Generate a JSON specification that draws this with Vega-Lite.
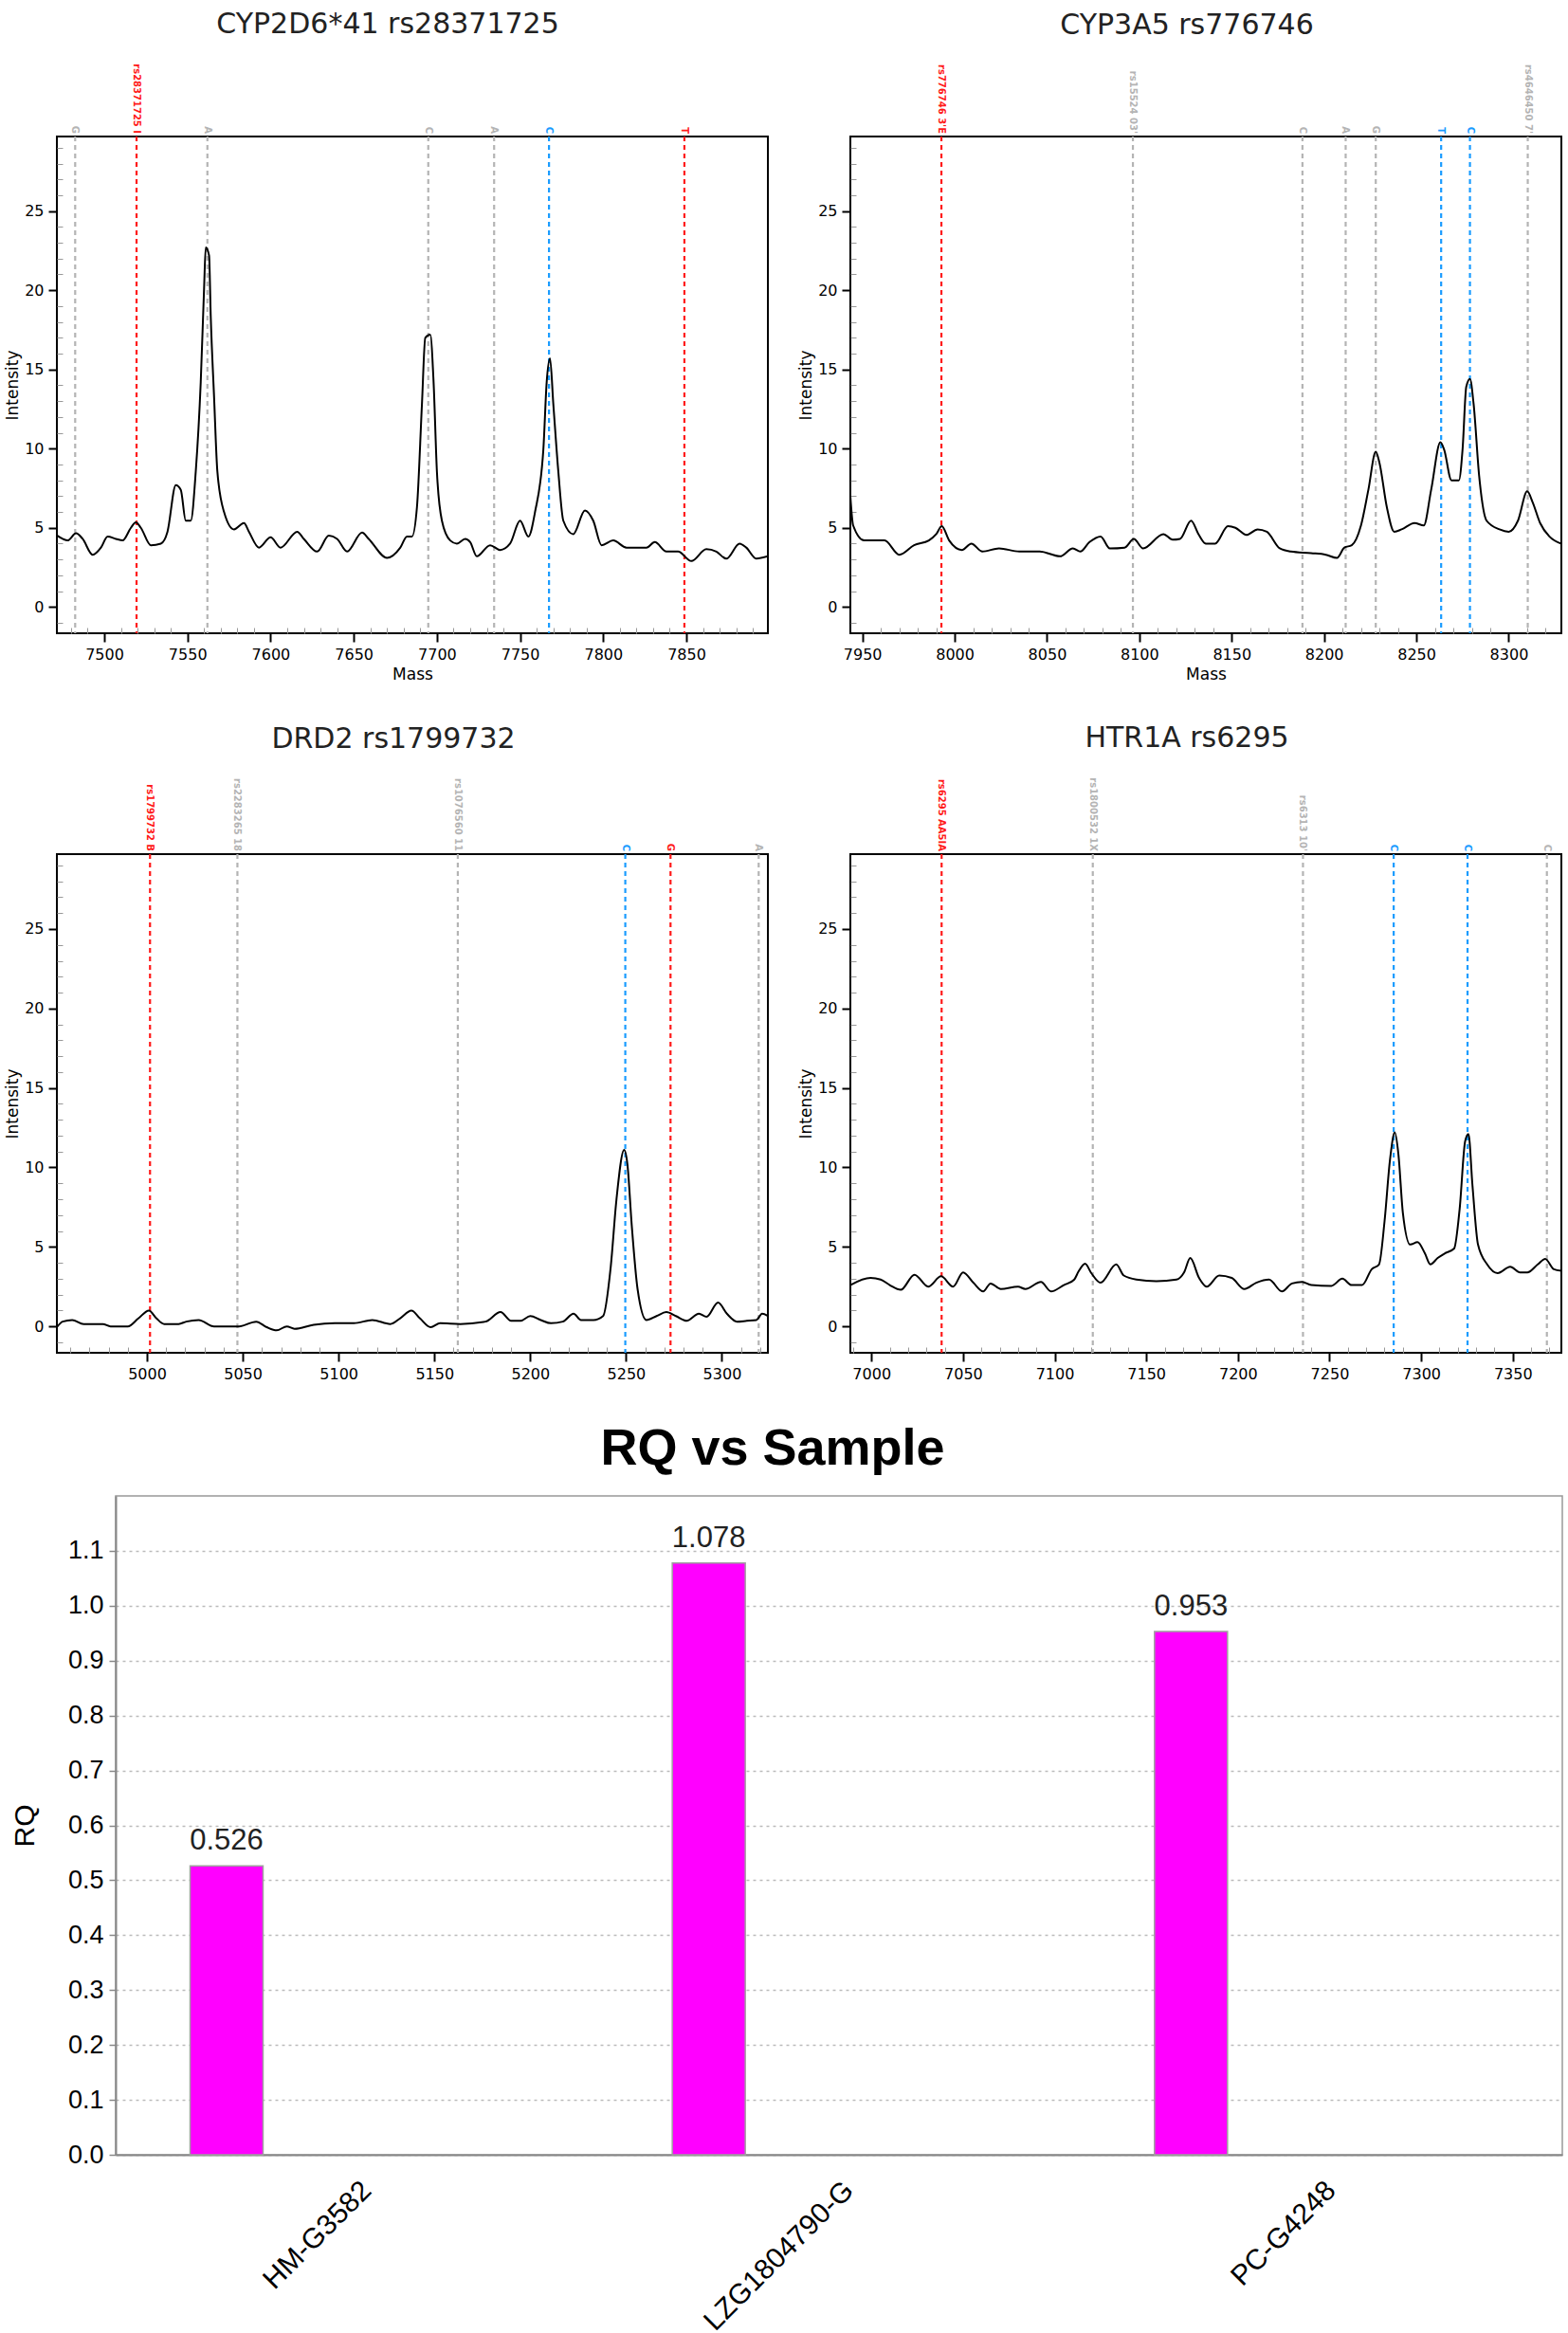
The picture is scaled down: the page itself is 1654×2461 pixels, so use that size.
{
  "$schema": "https://vega.github.io/schema/vega-lite/v6.json",
  "padding": {"left": 3, "right": 5, "top": 10, "bottom": 5},
  "background": "white",
  "datasets": {
    "p1": [
      {"mass": 7470.4, "int": 4.6}, {"mass": 7475, "int": 4.3}, {"mass": 7478, "int": 4.2}, {"mass": 7483, "int": 4.65},
      {"mass": 7487, "int": 4.3}, {"mass": 7493, "int": 3.3}, {"mass": 7498, "int": 3.75}, {"mass": 7502, "int": 4.45},
      {"mass": 7507, "int": 4.3}, {"mass": 7511, "int": 4.2}, {"mass": 7516, "int": 5.0}, {"mass": 7519, "int": 5.35},
      {"mass": 7522, "int": 5.0}, {"mass": 7528, "int": 3.9}, {"mass": 7534, "int": 4.0}, {"mass": 7538, "int": 4.75},
      {"mass": 7543, "int": 7.7}, {"mass": 7546, "int": 7.4}, {"mass": 7549, "int": 5.45}, {"mass": 7552, "int": 5.45},
      {"mass": 7555, "int": 8.55}, {"mass": 7558, "int": 14.2}, {"mass": 7560, "int": 20.1}, {"mass": 7561, "int": 22.7},
      {"mass": 7563, "int": 22.2}, {"mass": 7564, "int": 18.4}, {"mass": 7566, "int": 13.3}, {"mass": 7568, "int": 8.55},
      {"mass": 7572, "int": 6.0}, {"mass": 7578, "int": 4.9}, {"mass": 7584, "int": 5.3}, {"mass": 7587, "int": 4.75},
      {"mass": 7593, "int": 3.75}, {"mass": 7600, "int": 4.4}, {"mass": 7606, "int": 3.75}, {"mass": 7616, "int": 4.75},
      {"mass": 7620, "int": 4.3}, {"mass": 7628, "int": 3.5}, {"mass": 7635, "int": 4.5}, {"mass": 7640, "int": 4.3},
      {"mass": 7646, "int": 3.5}, {"mass": 7655, "int": 4.7}, {"mass": 7659, "int": 4.3}, {"mass": 7670, "int": 3.1},
      {"mass": 7678, "int": 3.75}, {"mass": 7682, "int": 4.45}, {"mass": 7685, "int": 4.45}, {"mass": 7688, "int": 6.3},
      {"mass": 7691, "int": 12.8}, {"mass": 7693, "int": 17.0}, {"mass": 7696, "int": 17.2}, {"mass": 7698, "int": 14.2},
      {"mass": 7700, "int": 8.55}, {"mass": 7703, "int": 5.45}, {"mass": 7708, "int": 4.2}, {"mass": 7712, "int": 4.0},
      {"mass": 7717, "int": 4.3}, {"mass": 7720, "int": 4.1}, {"mass": 7724, "int": 3.2}, {"mass": 7732, "int": 3.9},
      {"mass": 7738, "int": 3.6}, {"mass": 7744, "int": 4.0}, {"mass": 7750, "int": 5.45}, {"mass": 7755, "int": 4.45},
      {"mass": 7759, "int": 6.0}, {"mass": 7764, "int": 9.95}, {"mass": 7766, "int": 14.2}, {"mass": 7768, "int": 15.7},
      {"mass": 7770, "int": 12.8}, {"mass": 7773, "int": 8.55}, {"mass": 7776, "int": 5.45}, {"mass": 7782, "int": 4.6},
      {"mass": 7789, "int": 6.1}, {"mass": 7794, "int": 5.45}, {"mass": 7799, "int": 3.9}, {"mass": 7806, "int": 4.2},
      {"mass": 7814, "int": 3.75}, {"mass": 7826, "int": 3.75}, {"mass": 7831, "int": 4.1}, {"mass": 7838, "int": 3.5},
      {"mass": 7845, "int": 3.5}, {"mass": 7853, "int": 2.9}, {"mass": 7862, "int": 3.65}, {"mass": 7868, "int": 3.5},
      {"mass": 7874, "int": 3.05}, {"mass": 7882, "int": 4.0}, {"mass": 7886, "int": 3.75}, {"mass": 7892, "int": 3.05},
      {"mass": 7899, "int": 3.2}
    ],
    "p2": [
      {"mass": 7943.5, "int": 7.0}, {"mass": 7945, "int": 5.15}, {"mass": 7951, "int": 4.2}, {"mass": 7962, "int": 4.2},
      {"mass": 7970, "int": 3.3}, {"mass": 7978, "int": 3.9}, {"mass": 7986, "int": 4.2}, {"mass": 7990, "int": 4.6},
      {"mass": 7993, "int": 5.1}, {"mass": 7997, "int": 4.2}, {"mass": 8004, "int": 3.6}, {"mass": 8009, "int": 4.0},
      {"mass": 8015, "int": 3.5}, {"mass": 8024, "int": 3.7}, {"mass": 8035, "int": 3.5}, {"mass": 8046, "int": 3.5},
      {"mass": 8057, "int": 3.2}, {"mass": 8064, "int": 3.7}, {"mass": 8068, "int": 3.5}, {"mass": 8073, "int": 4.1},
      {"mass": 8079, "int": 4.45}, {"mass": 8084, "int": 3.7}, {"mass": 8092, "int": 3.75}, {"mass": 8097, "int": 4.3},
      {"mass": 8102, "int": 3.7}, {"mass": 8113, "int": 4.6}, {"mass": 8118, "int": 4.25}, {"mass": 8122, "int": 4.3},
      {"mass": 8128, "int": 5.45}, {"mass": 8132, "int": 4.6}, {"mass": 8136, "int": 4.0}, {"mass": 8141, "int": 4.0},
      {"mass": 8148, "int": 5.1}, {"mass": 8152, "int": 5.0}, {"mass": 8158, "int": 4.55}, {"mass": 8164, "int": 4.9},
      {"mass": 8169, "int": 4.75}, {"mass": 8176, "int": 3.7}, {"mass": 8182, "int": 3.5}, {"mass": 8193, "int": 3.4},
      {"mass": 8201, "int": 3.3}, {"mass": 8207, "int": 3.1}, {"mass": 8211, "int": 3.75}, {"mass": 8215, "int": 3.9},
      {"mass": 8220, "int": 5.15}, {"mass": 8224, "int": 7.4}, {"mass": 8228, "int": 9.8}, {"mass": 8230, "int": 9.1},
      {"mass": 8234, "int": 6.3}, {"mass": 8238, "int": 4.75}, {"mass": 8242, "int": 4.9}, {"mass": 8249, "int": 5.3},
      {"mass": 8254, "int": 5.15}, {"mass": 8258, "int": 7.4}, {"mass": 8263, "int": 10.4}, {"mass": 8265, "int": 9.95},
      {"mass": 8269, "int": 8.0}, {"mass": 8273, "int": 8.0}, {"mass": 8275, "int": 9.95}, {"mass": 8277, "int": 13.9},
      {"mass": 8279, "int": 14.4}, {"mass": 8281, "int": 12.8}, {"mass": 8284, "int": 8.25}, {"mass": 8288, "int": 5.45},
      {"mass": 8295, "int": 4.9}, {"mass": 8300, "int": 4.75}, {"mass": 8305, "int": 5.45}, {"mass": 8310, "int": 7.3},
      {"mass": 8313, "int": 6.6}, {"mass": 8317, "int": 5.3}, {"mass": 8322, "int": 4.45}, {"mass": 8328.5, "int": 4.0}
    ],
    "p3": [
      {"mass": 4953, "int": -0.05}, {"mass": 4956, "int": 0.3}, {"mass": 4961, "int": 0.4}, {"mass": 4967, "int": 0.15},
      {"mass": 4977, "int": 0.15}, {"mass": 4981, "int": 0.0}, {"mass": 4990, "int": 0.0}, {"mass": 4995.5, "int": 0.5},
      {"mass": 5001, "int": 1.0}, {"mass": 5005, "int": 0.5}, {"mass": 5009, "int": 0.15}, {"mass": 5016.5, "int": 0.15},
      {"mass": 5020.5, "int": 0.3}, {"mass": 5027, "int": 0.4}, {"mass": 5035, "int": 0.0}, {"mass": 5048, "int": 0.0},
      {"mass": 5057, "int": 0.3}, {"mass": 5062.5, "int": -0.05}, {"mass": 5067.7, "int": -0.25}, {"mass": 5073, "int": 0.0},
      {"mass": 5077, "int": -0.15}, {"mass": 5087, "int": 0.1}, {"mass": 5098, "int": 0.2}, {"mass": 5108, "int": 0.2},
      {"mass": 5117.6, "int": 0.4}, {"mass": 5127, "int": 0.15}, {"mass": 5132, "int": 0.5}, {"mass": 5138, "int": 1.0},
      {"mass": 5142.5, "int": 0.5}, {"mass": 5148, "int": -0.05}, {"mass": 5153, "int": 0.2}, {"mass": 5163.5, "int": 0.15},
      {"mass": 5176.6, "int": 0.3}, {"mass": 5184.5, "int": 0.9}, {"mass": 5190, "int": 0.35}, {"mass": 5195, "int": 0.35},
      {"mass": 5200, "int": 0.65}, {"mass": 5205.5, "int": 0.4}, {"mass": 5210.8, "int": 0.2}, {"mass": 5217, "int": 0.3},
      {"mass": 5222.6, "int": 0.8}, {"mass": 5226.5, "int": 0.4}, {"mass": 5233, "int": 0.4}, {"mass": 5238, "int": 0.65},
      {"mass": 5242, "int": 3.75}, {"mass": 5245, "int": 8.0}, {"mass": 5249, "int": 11.1}, {"mass": 5250.7, "int": 10.2},
      {"mass": 5253, "int": 6.3}, {"mass": 5256, "int": 2.35}, {"mass": 5260.6, "int": 0.4}, {"mass": 5265.9, "int": 0.65},
      {"mass": 5271, "int": 0.9}, {"mass": 5276, "int": 0.65}, {"mass": 5281.6, "int": 0.35}, {"mass": 5288, "int": 0.8},
      {"mass": 5292, "int": 0.6}, {"mass": 5298, "int": 1.5}, {"mass": 5302.6, "int": 0.8}, {"mass": 5307.9, "int": 0.3},
      {"mass": 5313, "int": 0.35}, {"mass": 5318, "int": 0.4}, {"mass": 5321, "int": 0.8}, {"mass": 5324, "int": 0.65}
    ],
    "p4": [
      {"mass": 6988.5, "int": 2.6}, {"mass": 6999.5, "int": 3.05}, {"mass": 7005, "int": 2.95}, {"mass": 7010, "int": 2.6},
      {"mass": 7016, "int": 2.3}, {"mass": 7023.5, "int": 3.25}, {"mass": 7031, "int": 2.5}, {"mass": 7038, "int": 3.15},
      {"mass": 7044.6, "int": 2.5}, {"mass": 7050, "int": 3.4}, {"mass": 7055.6, "int": 2.75}, {"mass": 7061, "int": 2.2},
      {"mass": 7065, "int": 2.7}, {"mass": 7070.6, "int": 2.35}, {"mass": 7080, "int": 2.5}, {"mass": 7084, "int": 2.35},
      {"mass": 7092.5, "int": 2.8}, {"mass": 7098, "int": 2.2}, {"mass": 7105, "int": 2.6}, {"mass": 7110.7, "int": 2.95},
      {"mass": 7113, "int": 3.45}, {"mass": 7116.6, "int": 3.95}, {"mass": 7120, "int": 3.35}, {"mass": 7125, "int": 2.75},
      {"mass": 7133.6, "int": 3.9}, {"mass": 7137.7, "int": 3.2}, {"mass": 7144.6, "int": 2.95}, {"mass": 7155.5, "int": 2.85},
      {"mass": 7166.5, "int": 2.95}, {"mass": 7170.6, "int": 3.4}, {"mass": 7174, "int": 4.3}, {"mass": 7178.8, "int": 3.05},
      {"mass": 7183, "int": 2.5}, {"mass": 7189.8, "int": 3.2}, {"mass": 7196.6, "int": 3.05}, {"mass": 7203.5, "int": 2.35},
      {"mass": 7210, "int": 2.75}, {"mass": 7217, "int": 2.95}, {"mass": 7224, "int": 2.2}, {"mass": 7229.5, "int": 2.7},
      {"mass": 7235, "int": 2.8}, {"mass": 7240, "int": 2.6}, {"mass": 7251, "int": 2.55}, {"mass": 7257, "int": 3.0},
      {"mass": 7262, "int": 2.6}, {"mass": 7267.8, "int": 2.6}, {"mass": 7273, "int": 3.6}, {"mass": 7277, "int": 3.9},
      {"mass": 7280, "int": 6.6}, {"mass": 7283, "int": 10.5}, {"mass": 7285.6, "int": 12.2}, {"mass": 7287.6, "int": 10.8},
      {"mass": 7290, "int": 7.15}, {"mass": 7294, "int": 5.15}, {"mass": 7298, "int": 5.3}, {"mass": 7302, "int": 4.6},
      {"mass": 7305, "int": 3.9}, {"mass": 7309, "int": 4.3}, {"mass": 7313, "int": 4.6}, {"mass": 7318, "int": 4.9},
      {"mass": 7321, "int": 7.4}, {"mass": 7324, "int": 11.65}, {"mass": 7325.8, "int": 12.1}, {"mass": 7328, "int": 8.85},
      {"mass": 7331, "int": 5.15}, {"mass": 7336, "int": 3.9}, {"mass": 7341.7, "int": 3.35}, {"mass": 7348.6, "int": 3.75},
      {"mass": 7354, "int": 3.4}, {"mass": 7358, "int": 3.4}, {"mass": 7363.6, "int": 3.9}, {"mass": 7367.7, "int": 4.25},
      {"mass": 7372.4, "int": 3.6}, {"mass": 7376.5, "int": 3.5}
    ],
    "m1": [
      {"mass": 7482.5, "kind": "gray", "label": "G"},
      {"mass": 7519.4, "kind": "red", "label": "rs28371725 I"},
      {"mass": 7562, "kind": "gray", "label": "A"},
      {"mass": 7694.8, "kind": "gray", "label": "C"},
      {"mass": 7734.4, "kind": "gray", "label": "A"},
      {"mass": 7767.4, "kind": "blue", "label": "C"},
      {"mass": 7848.8, "kind": "red", "label": "T"}
    ],
    "m2": [
      {"mass": 7992.8, "kind": "red", "label": "rs776746 3'E"},
      {"mass": 8096.5, "kind": "gray", "label": "rs15524 03'"},
      {"mass": 8188.3, "kind": "gray", "label": "C"},
      {"mass": 8211.7, "kind": "gray", "label": "A"},
      {"mass": 8228, "kind": "gray", "label": "G"},
      {"mass": 8263.4, "kind": "blue", "label": "T"},
      {"mass": 8279, "kind": "blue", "label": "C"},
      {"mass": 8310.3, "kind": "gray", "label": "rs4646450 7'"}
    ],
    "m3": [
      {"mass": 5001.6, "kind": "red", "label": "rs1799732 B"},
      {"mass": 5047.2, "kind": "gray", "label": "rs2283265 18"},
      {"mass": 5162.2, "kind": "gray", "label": "rs1076560 11"},
      {"mass": 5249.6, "kind": "blue", "label": "C"},
      {"mass": 5273.2, "kind": "red", "label": "G"},
      {"mass": 5319.2, "kind": "gray", "label": "A"}
    ],
    "m4": [
      {"mass": 7038.3, "kind": "red", "label": "rs6295 AA5IA"},
      {"mass": 7120.8, "kind": "gray", "label": "rs1800532 1X"},
      {"mass": 7235.5, "kind": "gray", "label": "rs6313 10'"},
      {"mass": 7285, "kind": "blue", "label": "C"},
      {"mass": 7325.3, "kind": "blue", "label": "C"},
      {"mass": 7368.6, "kind": "gray", "label": "C"}
    ],
    "rq": [
      {"sample": "HM-G3582", "series": "RQ", "rq": 0.526},
      {"sample": "LZG1804790-G", "series": "RQ", "rq": 1.078},
      {"sample": "PC-G4248", "series": "RQ", "rq": 0.953}
    ]
  },
  "concat": [
    {
      "hconcat": [
        {
          "title": {"text": "CYP2D6*41 rs28371725", "dx": -26},
          "width": 750, "height": 524,
          "resolve": {"axis": {"x": "independent", "y": "independent"}},
          "layer": [
            {
              "data": {"name": "m1"},
              "mark": {"type": "rule", "strokeDash": [5, 4]},
              "encoding": {
                "x": {"field": "mass", "type": "quantitative", "scale": {"domain": [7471.5, 7899]},
                  "axis": {"orient": "bottom", "title": null, "labels": false, "tickSize": -6, "tickColor": "#999999", "tickWidth": 1,
                    "values": [7480, 7490, 7510, 7520, 7530, 7540, 7560, 7570, 7580, 7590, 7610, 7620, 7630, 7640, 7660, 7670, 7680, 7690, 7710, 7720, 7730, 7740, 7760, 7770, 7780, 7790, 7810, 7820, 7830, 7840, 7860, 7870, 7880, 7890]}},
                "color": {"field": "kind", "type": "nominal", "scale": {"domain": ["red", "blue", "gray"], "range": ["#ff1a1a", "#1a9cff", "#b4b4b4"]}, "legend": null},
                "strokeWidth": {"field": "kind", "type": "nominal", "scale": {"domain": ["red", "blue", "gray"], "range": [2.2, 2.2, 1.4]}, "legend": null}
              }
            },
            {
              "data": {"name": "p1"},
              "mark": {"type": "line", "color": "black", "strokeWidth": 2, "interpolate": "monotone", "clip": true},
              "encoding": {
                "x": {"field": "mass", "type": "quantitative", "scale": {"domain": [7471.5, 7899]},
                  "axis": {"orient": "bottom", "title": "Mass", "format": "d", "values": [7500, 7550, 7600, 7650, 7700, 7750, 7800, 7850]}},
                "y": {"field": "int", "type": "quantitative", "scale": {"domain": [-1.66, 29.71]},
                  "axis": {"orient": "left", "title": "Intensity", "values": [0, 5, 10, 15, 20, 25]}}
              }
            },
            {
              "data": {"name": "m1"},
              "mark": {"type": "text", "angle": 90, "align": "right", "baseline": "middle", "dx": -3, "fontSize": 10, "font": "DejaVu Sans", "fontWeight": "bold"},
              "encoding": {
                "x": {"field": "mass", "type": "quantitative", "scale": {"domain": [7471.5, 7899]}, "axis": null},
                "y": {"datum": 29.71, "type": "quantitative", "scale": {"domain": [-1.66, 29.71]},
                  "axis": {"orient": "left", "title": null, "labels": false, "tickSize": -6, "tickColor": "#999999", "tickWidth": 1,
                    "values": [-1, 1, 2, 3, 4, 6, 7, 8, 9, 11, 12, 13, 14, 16, 17, 18, 19, 21, 22, 23, 24, 26, 27, 28, 29]}},
                "text": {"field": "label"},
                "color": {"field": "kind", "type": "nominal", "scale": {"domain": ["red", "blue", "gray"], "range": ["#ff1a1a", "#1a9cff", "#b4b4b4"]}, "legend": null}
              }
            }
          ]
        },
        {
          "title": {"text": "CYP3A5 rs776746", "dx": -20},
          "width": 750, "height": 524,
          "resolve": {"axis": {"x": "independent", "y": "independent"}},
          "layer": [
            {
              "data": {"name": "m2"},
              "mark": {"type": "rule", "strokeDash": [5, 4]},
              "encoding": {
                "x": {"field": "mass", "type": "quantitative", "scale": {"domain": [7943.5, 8328.5]},
                  "axis": {"orient": "bottom", "title": null, "labels": false, "tickSize": -6, "tickColor": "#999999", "tickWidth": 1,
                    "values": [7960, 7970, 7980, 7990, 8010, 8020, 8030, 8040, 8060, 8070, 8080, 8090, 8110, 8120, 8130, 8140, 8160, 8170, 8180, 8190, 8210, 8220, 8230, 8240, 8260, 8270, 8280, 8290, 8310, 8320]}},
                "color": {"field": "kind", "type": "nominal", "scale": {"domain": ["red", "blue", "gray"], "range": ["#ff1a1a", "#1a9cff", "#b4b4b4"]}, "legend": null},
                "strokeWidth": {"field": "kind", "type": "nominal", "scale": {"domain": ["red", "blue", "gray"], "range": [2.2, 2.2, 1.4]}, "legend": null}
              }
            },
            {
              "data": {"name": "p2"},
              "mark": {"type": "line", "color": "black", "strokeWidth": 2, "interpolate": "monotone", "clip": true},
              "encoding": {
                "x": {"field": "mass", "type": "quantitative", "scale": {"domain": [7943.5, 8328.5]},
                  "axis": {"orient": "bottom", "title": "Mass", "format": "d", "values": [7950, 8000, 8050, 8100, 8150, 8200, 8250, 8300]}},
                "y": {"field": "int", "type": "quantitative", "scale": {"domain": [-1.66, 29.71]},
                  "axis": {"orient": "left", "title": "Intensity", "values": [0, 5, 10, 15, 20, 25]}}
              }
            },
            {
              "data": {"name": "m2"},
              "mark": {"type": "text", "angle": 90, "align": "right", "baseline": "middle", "dx": -3, "fontSize": 10, "font": "DejaVu Sans", "fontWeight": "bold"},
              "encoding": {
                "x": {"field": "mass", "type": "quantitative", "scale": {"domain": [7943.5, 8328.5]}, "axis": null},
                "y": {"datum": 29.71, "type": "quantitative", "scale": {"domain": [-1.66, 29.71]},
                  "axis": {"orient": "left", "title": null, "labels": false, "tickSize": -6, "tickColor": "#999999", "tickWidth": 1,
                    "values": [-1, 1, 2, 3, 4, 6, 7, 8, 9, 11, 12, 13, 14, 16, 17, 18, 19, 21, 22, 23, 24, 26, 27, 28, 29]}},
                "text": {"field": "label"},
                "color": {"field": "kind", "type": "nominal", "scale": {"domain": ["red", "blue", "gray"], "range": ["#ff1a1a", "#1a9cff", "#b4b4b4"]}, "legend": null}
              }
            }
          ]
        }
      ],
      "spacing": 29
    },
    {
      "hconcat": [
        {
          "title": {"text": "DRD2 rs1799732", "dx": -20},
          "width": 750, "height": 526,
          "resolve": {"axis": {"x": "independent", "y": "independent"}},
          "layer": [
            {
              "data": {"name": "m3"},
              "mark": {"type": "rule", "strokeDash": [5, 4]},
              "encoding": {
                "x": {"field": "mass", "type": "quantitative", "scale": {"domain": [4953, 5324]},
                  "axis": {"orient": "bottom", "title": null, "labels": false, "tickSize": -6, "tickColor": "#999999", "tickWidth": 1,
                    "values": [4960, 4970, 4980, 4990, 5010, 5020, 5030, 5040, 5060, 5070, 5080, 5090, 5110, 5120, 5130, 5140, 5160, 5170, 5180, 5190, 5210, 5220, 5230, 5240, 5260, 5270, 5280, 5290, 5310, 5320]}},
                "color": {"field": "kind", "type": "nominal", "scale": {"domain": ["red", "blue", "gray"], "range": ["#ff1a1a", "#1a9cff", "#b4b4b4"]}, "legend": null},
                "strokeWidth": {"field": "kind", "type": "nominal", "scale": {"domain": ["red", "blue", "gray"], "range": [2.2, 2.2, 1.4]}, "legend": null}
              }
            },
            {
              "data": {"name": "p3"},
              "mark": {"type": "line", "color": "black", "strokeWidth": 2, "interpolate": "monotone", "clip": true},
              "encoding": {
                "x": {"field": "mass", "type": "quantitative", "scale": {"domain": [4953, 5324]},
                  "axis": {"orient": "bottom", "title": null, "format": "d", "values": [5000, 5050, 5100, 5150, 5200, 5250, 5300]}},
                "y": {"field": "int", "type": "quantitative", "scale": {"domain": [-1.66, 29.71]},
                  "axis": {"orient": "left", "title": "Intensity", "values": [0, 5, 10, 15, 20, 25]}}
              }
            },
            {
              "data": {"name": "m3"},
              "mark": {"type": "text", "angle": 90, "align": "right", "baseline": "middle", "dx": -3, "fontSize": 10, "font": "DejaVu Sans", "fontWeight": "bold"},
              "encoding": {
                "x": {"field": "mass", "type": "quantitative", "scale": {"domain": [4953, 5324]}, "axis": null},
                "y": {"datum": 29.71, "type": "quantitative", "scale": {"domain": [-1.66, 29.71]},
                  "axis": {"orient": "left", "title": null, "labels": false, "tickSize": -6, "tickColor": "#999999", "tickWidth": 1,
                    "values": [-1, 1, 2, 3, 4, 6, 7, 8, 9, 11, 12, 13, 14, 16, 17, 18, 19, 21, 22, 23, 24, 26, 27, 28, 29]}},
                "text": {"field": "label"},
                "color": {"field": "kind", "type": "nominal", "scale": {"domain": ["red", "blue", "gray"], "range": ["#ff1a1a", "#1a9cff", "#b4b4b4"]}, "legend": null}
              }
            }
          ]
        },
        {
          "title": {"text": "HTR1A rs6295", "dx": -20},
          "width": 750, "height": 526,
          "resolve": {"axis": {"x": "independent", "y": "independent"}},
          "layer": [
            {
              "data": {"name": "m4"},
              "mark": {"type": "rule", "strokeDash": [5, 4]},
              "encoding": {
                "x": {"field": "mass", "type": "quantitative", "scale": {"domain": [6988.5, 7376.5]},
                  "axis": {"orient": "bottom", "title": null, "labels": false, "tickSize": -6, "tickColor": "#999999", "tickWidth": 1,
                    "values": [6990, 7010, 7020, 7030, 7040, 7060, 7070, 7080, 7090, 7110, 7120, 7130, 7140, 7160, 7170, 7180, 7190, 7210, 7220, 7230, 7240, 7260, 7270, 7280, 7290, 7310, 7320, 7330, 7340, 7360, 7370]}},
                "color": {"field": "kind", "type": "nominal", "scale": {"domain": ["red", "blue", "gray"], "range": ["#ff1a1a", "#1a9cff", "#b4b4b4"]}, "legend": null},
                "strokeWidth": {"field": "kind", "type": "nominal", "scale": {"domain": ["red", "blue", "gray"], "range": [2.2, 2.2, 1.4]}, "legend": null}
              }
            },
            {
              "data": {"name": "p4"},
              "mark": {"type": "line", "color": "black", "strokeWidth": 2, "interpolate": "monotone", "clip": true},
              "encoding": {
                "x": {"field": "mass", "type": "quantitative", "scale": {"domain": [6988.5, 7376.5]},
                  "axis": {"orient": "bottom", "title": null, "format": "d", "values": [7000, 7050, 7100, 7150, 7200, 7250, 7300, 7350]}},
                "y": {"field": "int", "type": "quantitative", "scale": {"domain": [-1.66, 29.71]},
                  "axis": {"orient": "left", "title": "Intensity", "values": [0, 5, 10, 15, 20, 25]}}
              }
            },
            {
              "data": {"name": "m4"},
              "mark": {"type": "text", "angle": 90, "align": "right", "baseline": "middle", "dx": -3, "fontSize": 10, "font": "DejaVu Sans", "fontWeight": "bold"},
              "encoding": {
                "x": {"field": "mass", "type": "quantitative", "scale": {"domain": [6988.5, 7376.5]}, "axis": null},
                "y": {"datum": 29.71, "type": "quantitative", "scale": {"domain": [-1.66, 29.71]},
                  "axis": {"orient": "left", "title": null, "labels": false, "tickSize": -6, "tickColor": "#999999", "tickWidth": 1,
                    "values": [-1, 1, 2, 3, 4, 6, 7, 8, 9, 11, 12, 13, 14, 16, 17, 18, 19, 21, 22, 23, 24, 26, 27, 28, 29]}},
                "text": {"field": "label"},
                "color": {"field": "kind", "type": "nominal", "scale": {"domain": ["red", "blue", "gray"], "range": ["#ff1a1a", "#1a9cff", "#b4b4b4"]}, "legend": null}
              }
            }
          ]
        }
      ],
      "spacing": 29
    },
    {
      "hconcat": [
        {
          "width": 30, "height": 695,
          "view": {"stroke": null},
          "data": {"values": [{"blank": 0}]},
          "mark": {"type": "point", "opacity": 0}
        },
        {
          "title": {"text": "RQ vs Sample", "font": "Liberation Sans", "fontSize": 54, "fontWeight": "bold", "color": "black", "offset": 22, "dx": -70},
          "width": 1526, "height": 695,
          "view": {"stroke": "#999999", "strokeWidth": 1.5},
          "data": {"name": "rq"},
          "encoding": {
            "x": {"field": "sample", "type": "nominal", "title": null, "sort": null,
              "scale": {"paddingInner": 0, "paddingOuter": 0},
              "axis": {"labelAngle": -45, "labelFont": "Liberation Sans", "labelFontSize": 30, "labelColor": "black", "labelPadding": 22, "labelLimit": 0, "ticks": false, "domain": true, "domainColor": "#888888", "domainWidth": 2}},
            "xOffset": {"field": "series", "type": "nominal", "scale": {"domain": ["RQ", "_b", "_c"], "paddingInner": 0.4394, "paddingOuter": 0.5715}},
            "y": {"field": "rq", "type": "quantitative", "title": "RQ", "scale": {"domain": [0, 1.2], "nice": false},
              "axis": {"values": [0, 0.1, 0.2, 0.3, 0.4, 0.5, 0.6, 0.7, 0.8, 0.9, 1.0, 1.1], "format": ".1f",
                "labelFont": "Liberation Sans", "labelFontSize": 27, "labelColor": "black", "labelPadding": 6,
                "titleFont": "Liberation Sans", "titleFontSize": 30, "titleFontWeight": "normal", "titleColor": "black", "titlePadding": 30,
                "grid": true, "gridDash": [3, 4], "gridColor": "#bbbbbb", "gridWidth": 1.5,
                "tickSize": 7, "tickColor": "#888888", "tickWidth": 1.5, "domain": true, "domainColor": "#888888", "domainWidth": 2}}
          },
          "layer": [
            {"mark": {"type": "bar", "color": "#ff00ff", "stroke": "#a0a0a0", "strokeWidth": 1.5}},
            {"mark": {"type": "text", "baseline": "bottom", "dy": -10, "font": "Liberation Sans", "fontSize": 31, "color": "#222222"},
              "encoding": {"text": {"field": "rq", "type": "quantitative", "format": ".3f"}}}
          ]
        }
      ],
      "spacing": 32,
      "bounds": "flush"
    }
  ],
  "columns": 1,
  "spacing": 43,
  "config": {
    "view": {"stroke": "black", "strokeWidth": 2},
    "axis": {
      "domain": false, "grid": false, "labelOverlap": false,
      "labelFont": "DejaVu Sans", "labelFontSize": 16, "labelColor": "black", "labelPadding": 5,
      "tickSize": 9, "tickColor": "black", "tickWidth": 2,
      "titleFont": "DejaVu Sans", "titleFontSize": 17, "titleFontWeight": "normal", "titleColor": "black", "titlePadding": 4
    },
    "axisX": {"titlePadding": 5},
    "axisY": {"titlePadding": 3},
    "title": {"font": "DejaVu Sans", "fontSize": 30, "fontWeight": "normal", "color": "#222222", "offset": 26, "anchor": "middle"}
  }
}
